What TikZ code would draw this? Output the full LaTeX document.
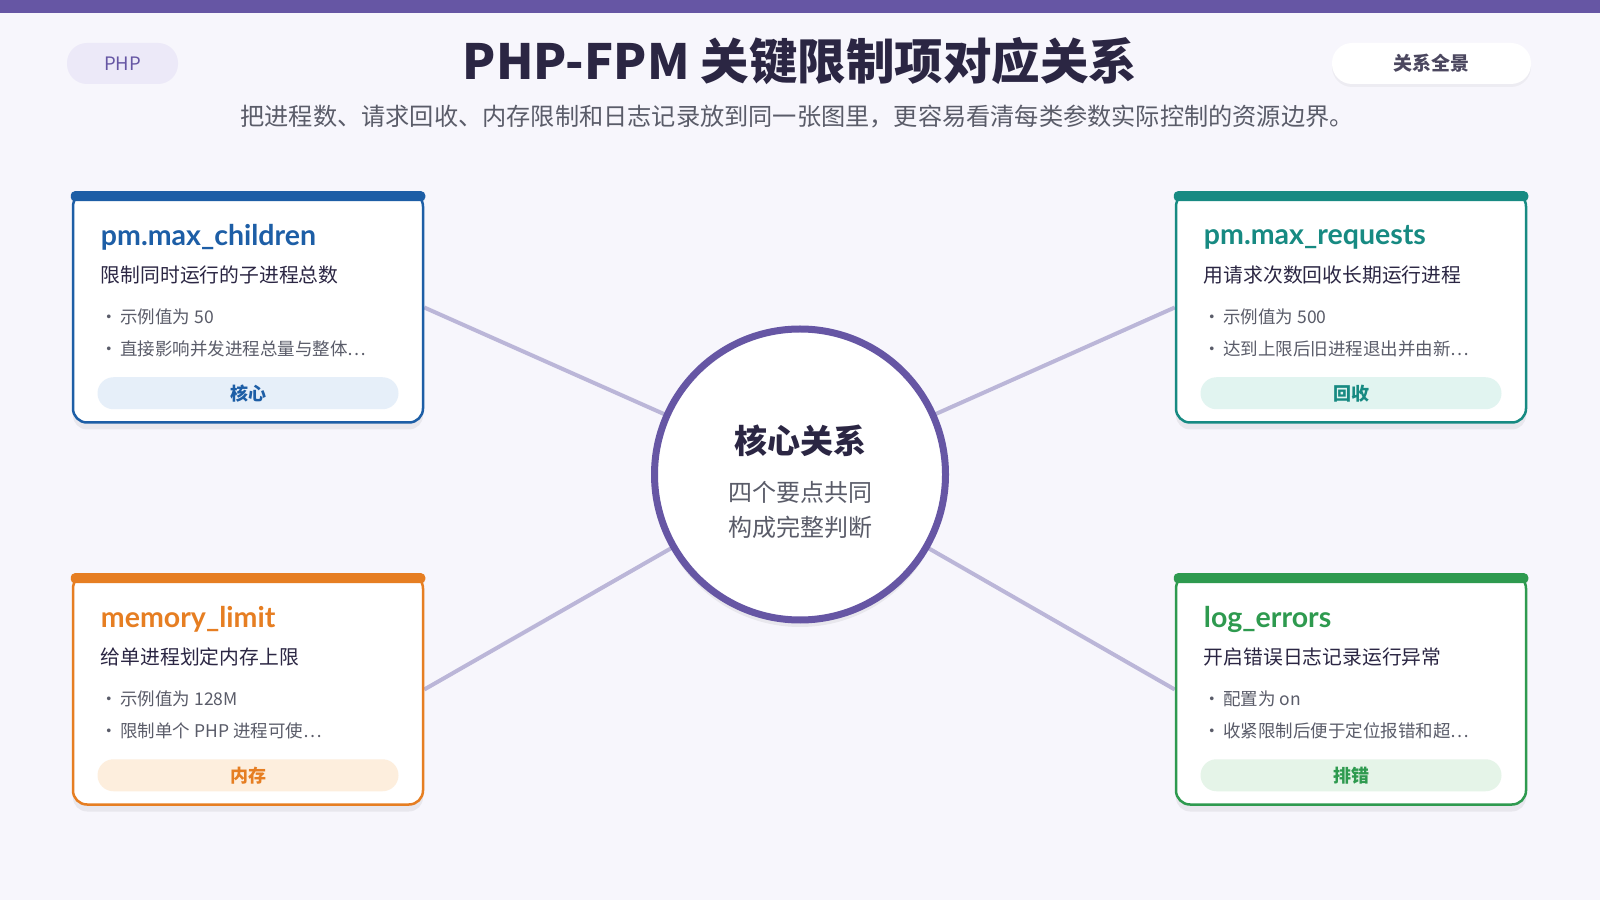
\documentclass[tikz,border=0pt]{standalone}
\usepackage{fontspec}
\setmainfont{Noto Sans CJK SC}
\newfontfamily\titlefont{Lato}
\usepackage{xcolor}
\usetikzlibrary{positioning,calc,shadows,backgrounds}

\definecolor{pagebg}{HTML}{F7F6FC}
\definecolor{fpmpurple}{HTML}{6656A4}
\definecolor{fpmpill}{HTML}{ECE9F8}
\definecolor{inkdark}{HTML}{2B2643}
\definecolor{inkgray}{HTML}{5A5C69}
\definecolor{linkgray}{HTML}{BBB6D8}
\definecolor{cblue}{HTML}{1D5EA6}
\definecolor{cbluelt}{HTML}{E6EFF9}
\definecolor{cteal}{HTML}{178A82}
\definecolor{ctealt}{HTML}{E1F4F0}
\definecolor{corange}{HTML}{E67E22}
\definecolor{corangelt}{HTML}{FDEEDD}
\definecolor{cgreen}{HTML}{2E9A4F}
\definecolor{cgreenlt}{HTML}{E5F4E8}

\begin{document}
\begin{tikzpicture}[x=1pt,y=1pt,
    card box/.style={rectangle,rounded corners=14pt,draw,line width=2.5pt,fill=white,minimum width=350pt,minimum height=230pt,inner sep=0pt,
        drop shadow={opacity=0.06,fill=black,shadow xshift=0pt,shadow yshift=-7pt}},
    card title/.style={anchor=west,inner sep=0pt,font=\titlefont\fontsize{28.5}{32}\selectfont\bfseries},
    card desc/.style={anchor=west,inner sep=0pt,text=inkdark,font=\fontsize{19.8}{24}\selectfont},
    card item/.style={anchor=west,inner sep=0pt,text=inkgray,font=\fontsize{17.5}{21}\selectfont},
    tag pill/.style={rectangle,rounded corners=16pt,minimum width=301pt,minimum height=32pt,inner sep=0pt,font=\fontsize{18}{22}\selectfont\bfseries},
    hub node/.style={circle,draw=fpmpurple,line width=7pt,fill=white,minimum size=291pt,
        drop shadow={opacity=0.06,fill=black,shadow xshift=0pt,shadow yshift=-7pt}},
    link line/.style={draw=linkgray,line width=4pt}]

    \useasboundingbox (0,0) rectangle (1600,900);
    \fill[fpmpurple] (0,887) rectangle (1600,900);

    % header
    \node[rectangle,rounded corners=20pt,fill=fpmpill,minimum width=111pt,minimum height=41pt,text=fpmpurple,font=\fontsize{18.5}{22}\selectfont] (phptag) at (122.5,836.5) {PHP};
    \node[rectangle,rounded corners=20pt,fill=white,minimum width=199pt,minimum height=41pt,text=inkdark!85,font=\fontsize{19}{23}\selectfont\bfseries,
        drop shadow={opacity=0.04,fill=black,shadow xshift=0pt,shadow yshift=-3pt}] (scopetag) at (1431.5,836.5) {关系全景};
    \node[text=inkdark,font=\fontsize{48.5}{56}\selectfont\bfseries] (title) at (800,839) {PHP-FPM 关键限制项对应关系};
    \node[text=inkgray,font=\fontsize{24.2}{29}\selectfont] (subtitle) at (797,783) {把进程数、请求回收、内存限制和日志记录放到同一张图里，更容易看清每类参数实际控制的资源边界。};

    % hub
    \node[hub node] (hub) at (800,425.5) {};
    \node[text=inkdark,font=\fontsize{33}{38}\selectfont\bfseries] (hubtitle) at ([yshift=33.5pt]hub.center) {核心关系};
    \node[text=inkgray,font=\fontsize{24}{28}\selectfont] (hubline1) at ([yshift=-17.5pt]hub.center) {四个要点共同};
    \node[text=inkgray,font=\fontsize{24}{28}\selectfont] (hubline2) at ([yshift=-52.5pt]hub.center) {构成完整判断};

    % pm.max_children
    \node[card box,draw=cblue] (maxchildren) at (248,592.5) {};
    \fill[cblue,rounded corners=4pt] ([xshift=-1pt]maxchildren.north west) rectangle ([xshift=1pt,yshift=-10pt]maxchildren.north east);
    \node[card title,text=cblue] (maxchildrentitle) at ([shift={(29pt,-46pt)}]maxchildren.north west) {pm.max\_children};
    \node[card desc] (maxchildrendesc) at ([shift={(29pt,-84pt)}]maxchildren.north west) {限制同时运行的子进程总数};
    \node[card item] (maxchildrenitem1) at ([shift={(29pt,-126pt)}]maxchildren.north west) {•\hspace{2pt}示例值为 50};
    \node[card item] (maxchildrenitem2) at ([shift={(29pt,-158pt)}]maxchildren.north west) {•\hspace{2pt}直接影响并发进程总量与整体…};
    \node[tag pill,fill=cbluelt,text=cblue] (maxchildrentag) at ([yshift=-202pt]maxchildren.north) {核心};

    % pm.max_requests
    \node[card box,draw=cteal] (maxrequests) at (1351,592.5) {};
    \fill[cteal,rounded corners=4pt] ([xshift=-1pt]maxrequests.north west) rectangle ([xshift=1pt,yshift=-10pt]maxrequests.north east);
    \node[card title,text=cteal] (maxrequeststitle) at ([shift={(29pt,-46pt)}]maxrequests.north west) {pm.max\_requests};
    \node[card desc] (maxrequestsdesc) at ([shift={(29pt,-84pt)}]maxrequests.north west) {用请求次数回收长期运行进程};
    \node[card item] (maxrequestsitem1) at ([shift={(29pt,-126pt)}]maxrequests.north west) {•\hspace{2pt}示例值为 500};
    \node[card item] (maxrequestsitem2) at ([shift={(29pt,-158pt)}]maxrequests.north west) {•\hspace{2pt}达到上限后旧进程退出并由新…};
    \node[tag pill,fill=ctealt,text=cteal] (maxrequeststag) at ([yshift=-202pt]maxrequests.north) {回收};

    % memory_limit
    \node[card box,draw=corange] (memlimit) at (248,210.5) {};
    \fill[corange,rounded corners=4pt] ([xshift=-1pt]memlimit.north west) rectangle ([xshift=1pt,yshift=-10pt]memlimit.north east);
    \node[card title,text=corange] (memlimittitle) at ([shift={(29pt,-46pt)}]memlimit.north west) {memory\_limit};
    \node[card desc] (memlimitdesc) at ([shift={(29pt,-84pt)}]memlimit.north west) {给单进程划定内存上限};
    \node[card item] (memlimititem1) at ([shift={(29pt,-126pt)}]memlimit.north west) {•\hspace{2pt}示例值为 128M};
    \node[card item] (memlimititem2) at ([shift={(29pt,-158pt)}]memlimit.north west) {•\hspace{2pt}限制单个 PHP 进程可使…};
    \node[tag pill,fill=corangelt,text=corange] (memlimittag) at ([yshift=-202pt]memlimit.north) {内存};

    % log_errors
    \node[card box,draw=cgreen] (logerrors) at (1351,210.5) {};
    \fill[cgreen,rounded corners=4pt] ([xshift=-1pt]logerrors.north west) rectangle ([xshift=1pt,yshift=-10pt]logerrors.north east);
    \node[card title,text=cgreen] (logerrorstitle) at ([shift={(29pt,-46pt)}]logerrors.north west) {log\_errors};
    \node[card desc] (logerrorsdesc) at ([shift={(29pt,-84pt)}]logerrors.north west) {开启错误日志记录运行异常};
    \node[card item] (logerrorsitem1) at ([shift={(29pt,-126pt)}]logerrors.north west) {•\hspace{2pt}配置为 on};
    \node[card item] (logerrorsitem2) at ([shift={(29pt,-158pt)}]logerrors.north west) {•\hspace{2pt}收紧限制后便于定位报错和超…};
    \node[tag pill,fill=cgreenlt,text=cgreen] (logerrorstag) at ([yshift=-202pt]logerrors.north) {排错};

    \begin{scope}[on background layer]
        \fill[pagebg] (0,0) rectangle (1600,887);
        \path[link line] (maxchildren.east) -- (hub.center)
            (maxrequests.west) -- (hub.center)
            (memlimit.east) -- (hub.center)
            (logerrors.west) -- (hub.center);
    \end{scope}

\end{tikzpicture}
\end{document}
